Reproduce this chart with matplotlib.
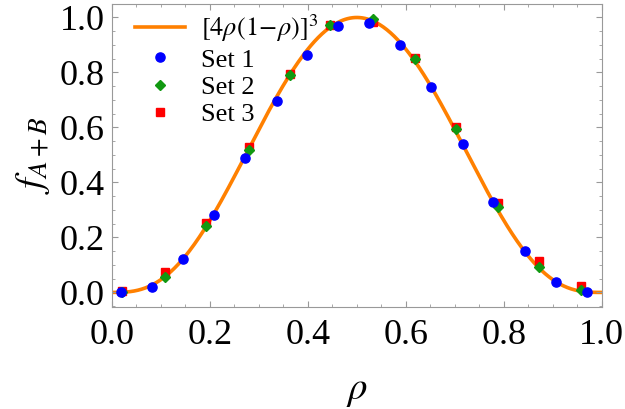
import numpy as np
import matplotlib
matplotlib.use('Agg')
import matplotlib.pyplot as plt
from matplotlib.ticker import MultipleLocator

plt.rcParams['font.family'] = ['Liberation Serif', 'DejaVu Serif']
plt.rcParams['mathtext.fontset'] = 'stix'

# Set 1 (blue circles)
rho_1 = [0.018, 0.081, 0.146, 0.209, 0.272, 0.336, 0.399, 0.461,
         0.525, 0.589, 0.652, 0.716, 0.778, 0.843, 0.906, 0.969]
f_1 = [0.000, 0.020, 0.120, 0.282, 0.489, 0.698, 0.865, 0.968,
       0.980, 0.899, 0.746, 0.541, 0.330, 0.151, 0.038, 0.000]

# Set 2 (green diamonds) and Set 3 (red squares)
rho_23 = [0.020, 0.108, 0.192, 0.279, 0.363, 0.446,
          0.533, 0.618, 0.703, 0.788, 0.873, 0.958]
f_2 = [0.001, 0.056, 0.242, 0.518, 0.792, 0.972,
       0.995, 0.850, 0.594, 0.309, 0.092, 0.007]
f_3 = [0.005, 0.073, 0.251, 0.528, 0.795, 0.974,
       0.983, 0.851, 0.601, 0.324, 0.113, 0.023]

# 理論曲線
rho = np.linspace(0, 1, 400)
f_theory = (4 * rho * (1 - rho)) ** 3

fig = plt.figure(figsize=(6.25, 4.09), dpi=100)
ax = fig.add_axes([0.1792, 0.2501, 0.7835, 0.7394])

line, = ax.plot(rho, f_theory, color='#FF8000', lw=2.6, zorder=1,
                label=r'$[4\rho(1\!-\!\rho)]^3$')
s3, = ax.plot(rho_23, f_3, 's', color='#FF0000', ms=5.8, ls='none', zorder=2, label='Set 3')
s2, = ax.plot(rho_23, f_2, 'D', color='#119911', ms=4.6, ls='none', zorder=3, label='Set 2')
s1, = ax.plot(rho_1, f_1, 'o', color='#0000FF', ms=6.6, ls='none', zorder=4, label='Set 1')

ax.set_xlim(0, 1)
ax.set_ylim(-0.052, 1.048)
ax.xaxis.set_major_locator(MultipleLocator(0.2))
ax.xaxis.set_minor_locator(MultipleLocator(0.05))
ax.yaxis.set_major_locator(MultipleLocator(0.2))
ax.yaxis.set_minor_locator(MultipleLocator(0.05))
ax.xaxis.set_major_formatter(plt.FormatStrFormatter('%.1f'))
ax.yaxis.set_major_formatter(plt.FormatStrFormatter('%.1f'))

ax.tick_params(which='both', direction='in', top=True, right=True,
               color='#999999', labelsize=26, labelcolor='black')
ax.tick_params(which='major', length=4, width=0.8)
ax.tick_params(which='minor', length=2.5, width=0.6)
ax.tick_params(axis='x', pad=9)
ax.tick_params(axis='y', pad=5)
for sp in ax.spines.values():
    sp.set_color('#999999')
    sp.set_linewidth(0.8)

ax.set_xlabel(r'$\rho$', fontsize=28, labelpad=14)
ax.set_ylabel(r'$f_{A+B}$', fontsize=28, labelpad=6)

ax.legend(handles=[line, s1, s2, s3], loc='upper left', frameon=False,
          fontsize=19, handlelength=1.9, handletextpad=0.6,
          labelspacing=0.15, borderaxespad=0.0, bbox_to_anchor=(0.025, 1.008))

fig.savefig('out.png', dpi=100)
